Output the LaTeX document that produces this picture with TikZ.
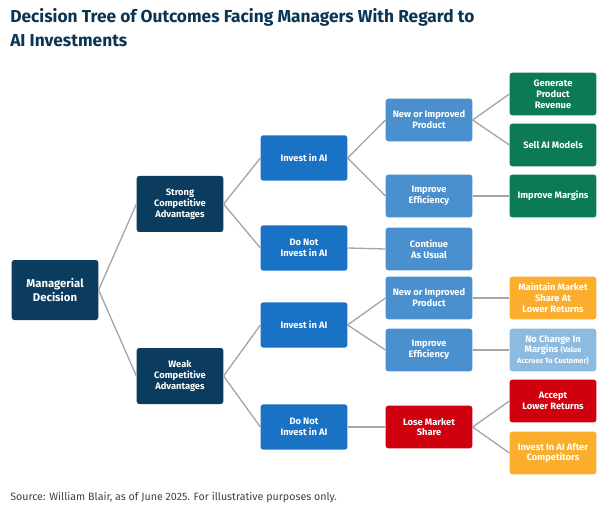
\documentclass[tikz,border=0pt]{standalone}
\usepackage{fontspec}
\setmainfont{Fira Sans}
\definecolor{navy}{HTML}{0B3B5E}
\definecolor{midblue}{HTML}{1A72C4}
\definecolor{liteblue}{HTML}{4A90CE}
\definecolor{paleblue}{HTML}{8DBBE0}
\definecolor{green}{HTML}{0B7A55}
\definecolor{amber}{HTML}{FBAE2D}
\definecolor{crimson}{HTML}{D0000F}
\begin{document}
\begin{tikzpicture}[x=0.75pt, y=-0.75pt,
    boxStyle/.style={rounded corners=2pt, text=white, font=\fontsize{7}{8.2}\selectfont\bfseries, align=center, minimum width=65pt, inner sep=1pt},
    linkStyle/.style={draw=gray!70, line width=1pt}]
    \useasboundingbox (0,0) rectangle (609,509);
    \node[anchor=north west, align=left, font=\fontsize{13}{18}\selectfont\bfseries, text=navy!90!black, inner sep=0] (title) at (10,8)
        {Decision Tree of Outcomes Facing Managers With Regard to\\AI Investments};

    \node[boxStyle, fill=navy, minimum height=45pt, font=\fontsize{8.5}{10}\selectfont\bfseries] (root) at (55,290) {Managerial\\Decision};
    \node[boxStyle, fill=navy, minimum height=42pt] (strong) at (180,204) {Strong\\Competitive\\Advantages};
    \node[boxStyle, fill=navy, minimum height=42pt] (weak) at (180,376) {Weak\\Competitive\\Advantages};

    \node[boxStyle, fill=midblue, minimum height=34pt] (inv1) at (304,158) {Invest in AI};
    \node[boxStyle, fill=midblue, minimum height=34pt] (not1) at (304,248) {Do Not\\Invest in AI};
    \node[boxStyle, fill=midblue, minimum height=34pt] (inv2) at (304,325) {Invest in AI};
    \node[boxStyle, fill=midblue, minimum height=34pt] (not2) at (304,427) {Do Not\\Invest in AI};

    \node[boxStyle, fill=liteblue, minimum height=32pt] (prod1) at (429,120) {New or Improved\\Product};
    \node[boxStyle, fill=liteblue, minimum height=32pt] (eff1) at (429,196) {Improve\\Efficiency};
    \node[boxStyle, fill=liteblue, minimum height=32pt] (usual) at (429,249) {Continue\\As Usual};
    \node[boxStyle, fill=liteblue, minimum height=32pt] (prod2) at (429,298) {New or Improved\\Product};
    \node[boxStyle, fill=liteblue, minimum height=32pt] (eff2) at (429,350) {Improve\\Efficiency};
    \node[boxStyle, fill=crimson, minimum height=32pt] (lose) at (429,427) {Lose Market\\Share};

    \node[boxStyle, fill=green, minimum height=32pt] (rev) at (553,94) {Generate\\Product\\Revenue};
    \node[boxStyle, fill=green, minimum height=32pt] (sell) at (553,145) {Sell AI Models};
    \node[boxStyle, fill=green, minimum height=32pt] (marg) at (553,196) {Improve Margins};
    \node[boxStyle, fill=amber, minimum height=32pt] (keep) at (553,298) {Maintain Market\\Share At\\Lower Returns};
    \node[boxStyle, fill=paleblue, minimum height=32pt] (same) at (553,350) {No Change In\\Margins {\fontsize{5.5}{6.5}\selectfont(Value}\\{\fontsize{5.5}{6.5}\selectfont Accrues To Customer)}};
    \node[boxStyle, fill=crimson, minimum height=32pt] (accept) at (553,401) {Accept\\Lower Returns};
    \node[boxStyle, fill=amber, minimum height=32pt] (late) at (553,453) {Invest In AI After\\Competitors};

    \node[anchor=west, font=\fontsize{8}{9}\selectfont, text=black!75, inner sep=0] (src) at (10,497)
        {Source: William Blair, as of June 2025. For illustrative purposes only.};

    \draw[linkStyle] (root.east) -- (strong.west);
    \draw[linkStyle] (root.east) -- (weak.west);
    \draw[linkStyle] (strong.east) -- (inv1.west);
    \draw[linkStyle] (strong.east) -- (not1.west);
    \draw[linkStyle] (weak.east) -- (inv2.west);
    \draw[linkStyle] (weak.east) -- (not2.west);
    \draw[linkStyle] (inv1.east) -- (prod1.west);
    \draw[linkStyle] (inv1.east) -- (eff1.west);
    \draw[linkStyle] (not1.east) -- (usual.west);
    \draw[linkStyle] (inv2.east) -- (prod2.west);
    \draw[linkStyle] (inv2.east) -- (eff2.west);
    \draw[linkStyle] (not2.east) -- (lose.west);
    \draw[linkStyle] (prod1.east) -- (rev.west);
    \draw[linkStyle] (prod1.east) -- (sell.west);
    \draw[linkStyle] (eff1.east) -- (marg.west);
    \draw[linkStyle] (prod2.east) -- (keep.west);
    \draw[linkStyle] (eff2.east) -- (same.west);
    \draw[linkStyle] (lose.east) -- (accept.west);
    \draw[linkStyle] (lose.east) -- (late.west);
\end{tikzpicture}
\end{document}
